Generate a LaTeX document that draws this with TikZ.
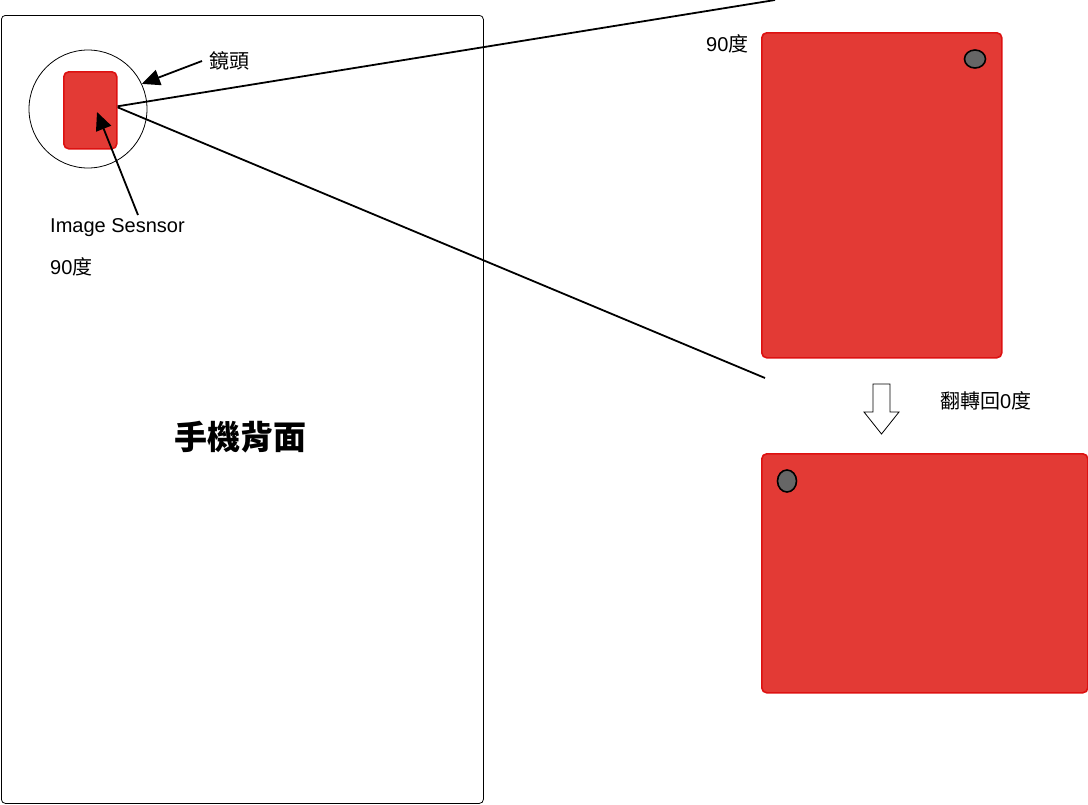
\documentclass[tikz,border=0pt]{standalone}
\usepackage{fontspec}
\setmainfont{Liberation Sans}
\newfontfamily\cjk{Noto Sans CJK TC}
\usetikzlibrary{shapes.geometric,arrows.meta}
\definecolor{sred}{HTML}{E33A35}
\definecolor{sredline}{HTML}{DD1111}
\definecolor{dot}{HTML}{666666}
\tikzset{
  redbox/.style={draw=sredline, fill=sred, line width=1.6pt, rounded corners=5pt, inner sep=0pt, anchor=north west},
  dotell/.style={ellipse, draw=black, fill=dot, line width=1.6pt, inner sep=0pt},
  lbl/.style={font=\fontsize{20}{24}\selectfont, inner sep=0pt},
  ray/.style={line width=1.8pt},
  ptr/.style={line width=1.8pt, -{Triangle[length=18pt,width=16pt]}},
}
\begin{document}
\begin{tikzpicture}[x=1pt,y=-1pt]
\useasboundingbox (0,0) rectangle (1088,804);
% phone back
\node[draw, line width=0.8pt, rounded corners=4pt, minimum width=482pt, minimum height=788pt, inner sep=0pt, anchor=north west] (phone) at (1,15) {};
\node[font=\fontsize{33}{40}\selectfont\cjk\bfseries, inner sep=0pt] (title) at (240,437) {手機背面};
% lens
\node[circle, draw, line width=0.8pt, minimum size=118pt, inner sep=0pt] (lens) at (88,109) {};
\node[redbox, minimum width=53pt, minimum height=77pt] (sensor) at (63,71) {};
% labels
\node[lbl, anchor=west] (lenslbl) at (209,61) {\cjk 鏡頭};
\node[lbl, anchor=west] (senslbl) at (50,228) {Image Sesnsor};
\node[lbl, anchor=west] (deg1) at (50,267) {90\cjk 度};
% pointers
\coordinate (lensfrom) at (202,61);
\draw[ptr] (lensfrom) -- (lens.25);
\coordinate (sensfrom) at (138,215);
\coordinate (sensto) at (97,112);
\draw[ptr] (sensfrom) -- (sensto);
% rays
\coordinate (rayA) at (775,0);
\coordinate (rayB) at (765,378);
\draw[ray] (sensor.east) ++(0,-4) coordinate (s1) (s1) -- (rayA);
\draw[ray] (sensor.east) ++(0,-3) coordinate (s2) (s2) -- (rayB);
% right big sensor 90 deg
\node[redbox, minimum width=240pt, minimum height=325pt] (big1) at (761,32) {};
\node[dotell, minimum width=21pt, minimum height=18pt] (dot1) at (975,59) {};
\node[lbl, anchor=west] (deg2) at (706,44) {90\cjk 度};
% block arrow
\draw[line width=0.8pt, fill=white] (873,384) -- (890,384) -- (890,412) -- (899,412) -- (881.5,434) -- (864,412) -- (873,412) -- cycle;
\node[lbl, anchor=west] (flip) at (940,401) {\cjk 翻轉回{\rmfamily 0}度};
% rotated sensor 0 deg
\node[redbox, minimum width=326pt, minimum height=239pt] (big2) at (761,453) {};
\node[dotell, minimum width=19pt, minimum height=22pt] (dot2) at (787,481) {};
\end{tikzpicture}
\end{document}
